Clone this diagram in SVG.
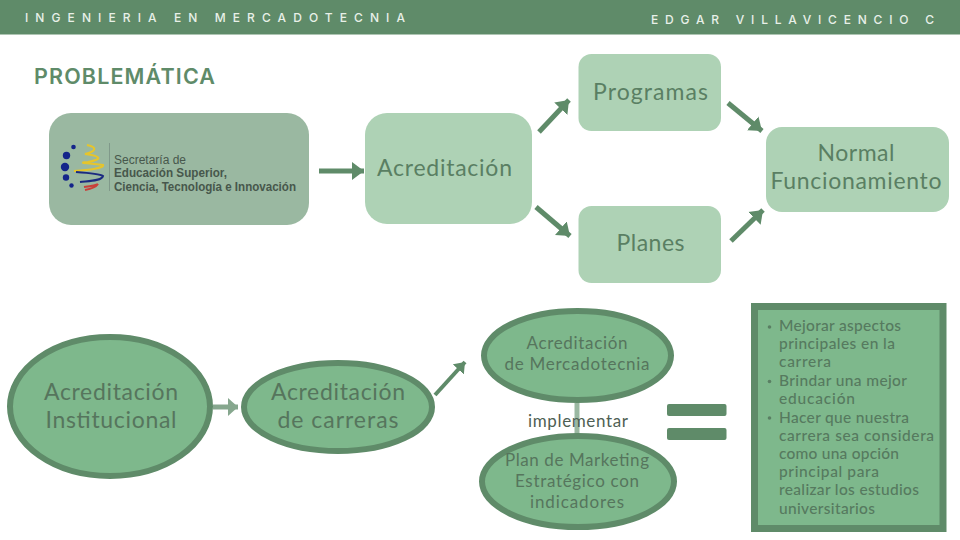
<svg xmlns="http://www.w3.org/2000/svg" width="960" height="540" viewBox="0 0 960 540">
<defs>
<marker id="ah" markerUnits="userSpaceOnUse" markerWidth="18" markerHeight="22" refX="12" refY="9" orient="auto"><path d="M0 0L12 9L0 18Z" fill="#5f8b69"/></marker>
<marker id="ahs" markerUnits="userSpaceOnUse" markerWidth="18" markerHeight="22" refX="10" refY="7.500" orient="auto"><path d="M0 0L10 7.500L0 15Z" fill="#5f8b69"/></marker>
<marker id="ahl" markerUnits="userSpaceOnUse" markerWidth="18" markerHeight="22" refX="10" refY="9" orient="auto"><path d="M0 0L10 9L0 18Z" fill="#86a78e"/></marker>
</defs>
<style>
text{font-family:"Lato","Liberation Sans",sans-serif;fill:#5a7f63;}
.hd{font-family:"Inter","Liberation Sans",sans-serif;fill:#e8f0e8;font-size:12px;font-weight:500;}
.box{fill:#aed2b5;}
.el{fill:#7eb88c;stroke:#5f8b69;stroke-width:6;}
.t{font-size:23px;text-anchor:middle;font-weight:400;}
.d{fill:#56755d;}
.s{font-size:15.500px;fill:#567a5f;font-weight:500;}
.con{stroke:#5f8b69;stroke-width:5;fill:none;marker-end:url(#ah);}
.logo{font-family:"Liberation Sans",sans-serif;font-size:12px;fill:#47574c;}
</style>
<rect width="960" height="540" fill="#fff"/>
<g id="header">
<rect width="960" height="34.500" fill="#5f8b69"/>
<text class="hd" x="25" y="22" textLength="380">INGENIERIA EN MERCADOTECNIA</text>
<text class="hd" x="651" y="24" textLength="283">EDGAR VILLAVICENCIO C</text>
</g>
<text x="34" y="84" font-size="21.500" font-weight="600" style="fill:#5f8b69;font-family:Inter,'Liberation Sans',sans-serif" textLength="181">PROBLEMÁTICA</text>
<g id="connectors">
<path class="con" d="M319 171H364"/>
<path class="con" d="M539 132L569 100"/>
<path class="con" d="M536 207L570 236"/>
<path class="con" d="M728 103L762 131"/>
<path class="con" d="M731 241L763 210"/>
<path d="M213 407H238" stroke="#86a78e" stroke-width="5" fill="none" marker-end="url(#ahl)"/>
<path d="M435 395L465 362" stroke="#5f8b69" stroke-width="4" fill="none" marker-end="url(#ahs)"/>
<path d="M577 403V435" stroke="#9ab8a1" stroke-width="5" fill="none"/>
</g>
<g id="logo-box">
<rect x="49" y="113" width="260" height="112" rx="22" fill="#9ab8a1"/>
<g fill="#14248a"><circle cx="73.500" cy="147" r="2.300"/><circle cx="66.500" cy="155.500" r="3.700"/><circle cx="65" cy="167" r="4.200"/><circle cx="66" cy="177.500" r="3.200"/><circle cx="71.500" cy="185.500" r="2.200"/></g>
<path d="M87 145C97 147 97 151 85 154C100 156 104 159 88 162C76 163 88 163 103 165C104 168 90 170 74 171" fill="none" stroke="#e6c52c" stroke-width="2.200"/>
<path d="M76 172C90 173 100 174 103 176C102 181 88 181 80 182" fill="none" stroke="#1b2a80" stroke-width="2"/>
<path d="M84 187C92 186 97 185 98 184C96 187 90 189 85 190" fill="none" stroke="#c9403a" stroke-width="2"/>
<path d="M109.500 143V191" stroke="#80998a" stroke-width="1"/>
<text class="logo" x="114" y="164" textLength="72" lengthAdjust="spacingAndGlyphs">Secretaría de</text>
<text class="logo" x="114" y="177" textLength="113" lengthAdjust="spacingAndGlyphs" font-weight="700">Educación Superior,</text>
<text class="logo" x="114" y="191" textLength="182" lengthAdjust="spacingAndGlyphs" font-weight="700">Ciencia, Tecnología e Innovación</text>
</g>
<g id="acreditacion">
<rect class="box" x="365" y="113" width="167" height="111" rx="22"/>
<text class="t" x="444.500" y="176" textLength="135">Acreditación</text>
</g>
<g id="programas">
<rect class="box" x="578.500" y="54" width="142.500" height="77" rx="13"/>
<text class="t" x="650.500" y="100" textLength="115">Programas</text>
</g>
<g id="planes">
<rect class="box" x="578.500" y="206" width="142.500" height="77" rx="13"/>
<text class="t" x="650.500" y="251" textLength="68">Planes</text>
</g>
<g id="normal">
<rect class="box" x="766" y="127" width="183" height="85" rx="16"/>
<text class="t" x="856" y="161" textLength="77">Normal</text>
<text class="t" x="856" y="189" textLength="171">Funcionamiento</text>
</g>
<g id="institucional">
<ellipse class="el" cx="110" cy="406.500" rx="100" ry="69.500"/>
<text class="t d" x="111" y="400" textLength="134">Acreditación</text>
<text class="t d" x="111" y="428" textLength="131">Institucional</text>
</g>
<g id="carreras">
<ellipse class="el" cx="338" cy="407" rx="94" ry="44"/>
<text class="t d" x="338" y="400" textLength="134">Acreditación</text>
<text class="t d" x="338" y="428" textLength="121">de carreras</text>
</g>
<g id="mercadotecnia">
<ellipse class="el" cx="577.500" cy="355.500" rx="93.500" ry="44.500"/>
<text class="t d" x="577" y="349" textLength="101" style="font-size:17px">Acreditación</text>
<text class="t d" x="577" y="370" textLength="145" style="font-size:17px">de Mercadotecnia</text>
</g>
<g id="plan">
<ellipse class="el" cx="578" cy="481.500" rx="96" ry="45.500"/>
<text class="t d" x="577" y="466" textLength="144" style="font-size:17px">Plan de Marketing</text>
<text class="t d" x="577" y="487" textLength="124" style="font-size:17px">Estratégico con</text>
<text class="t d" x="577" y="508" textLength="94" style="font-size:17px">indicadores</text>
</g>
<text x="578" y="427" font-size="17" font-weight="400" text-anchor="middle" textLength="100" style="fill:#4f5f54">implementar</text>
<g id="equals" fill="#5f8b69">
<rect x="667" y="404" width="59.500" height="12" rx="2"/>
<rect x="667" y="428" width="59.500" height="12" rx="2"/>
</g>
<g id="resultado">
<rect x="754.500" y="306.500" width="188.500" height="222" fill="#7eb88c" stroke="#5f8b69" stroke-width="7"/>
<g fill="#5a7f63"><circle cx="769.500" cy="327" r="1.800"/><circle cx="769.500" cy="381.500" r="1.800"/><circle cx="769.500" cy="418" r="1.800"/></g>
<text class="s" x="779" y="331" textLength="122">Mejorar aspectos</text>
<text class="s" x="779" y="349" textLength="116">principales en la</text>
<text class="s" x="779" y="367" textLength="52">carrera</text>
<text class="s" x="779" y="386" textLength="128">Brindar una mejor</text>
<text class="s" x="779" y="404" textLength="76">educación</text>
<text class="s" x="779" y="423" textLength="130">Hacer que nuestra</text>
<text class="s" x="779" y="441" textLength="155">carrera sea considera</text>
<text class="s" x="779" y="459" textLength="120">como una opción</text>
<text class="s" x="779" y="477" textLength="100">principal para</text>
<text class="s" x="779" y="495" textLength="140">realizar los estudios</text>
<text class="s" x="779" y="514" textLength="96">universitarios</text>
</g>
</svg>
